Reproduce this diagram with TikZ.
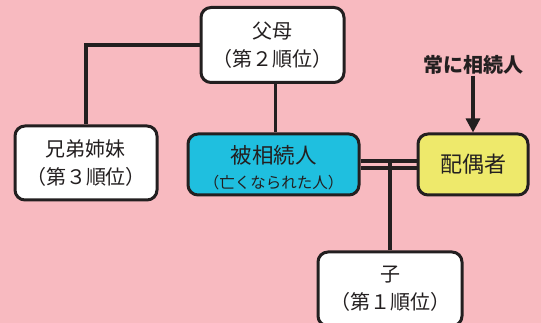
\documentclass[tikz,border=0pt]{standalone}
\usepackage{fontspec}
\setmainfont{Noto Sans CJK JP}
\usetikzlibrary{arrows.meta}
\definecolor{bgpink}{HTML}{F8BAC0}
\definecolor{ink}{HTML}{231F20}
\definecolor{cyanbox}{HTML}{1FBFDF}
\definecolor{yelbox}{HTML}{EEE96B}
\tikzset{
  box/.style={draw=ink, line width=3pt, rounded corners=10pt, fill=white, text=ink, align=center, inner sep=0pt},
  link/.style={draw=ink, line width=3.2pt},
  boxtext/.style={font=\fontsize{20}{28}\selectfont},
}
\begin{document}
\begin{tikzpicture}[x=1pt,y=-1pt]
\useasboundingbox (0,0) rectangle (541,323);
\clip (0,0) rectangle (541,323);
\fill[bgpink] (0,0) rectangle (541,323);
\node[box, boxtext, minimum width=143pt, minimum height=75pt] (fubo) at (272.5,45) {父母\\（第２順位）};
\node[box, boxtext, minimum width=142pt, minimum height=74pt] (kyodai) at (86,163) {兄弟姉妹\\（第３順位）};
\node[box, fill=cyanbox, minimum width=171pt, minimum height=61pt, text depth=0pt] (hi) at (273.5,164.5) {};
\node[text=ink, inner sep=0pt, font=\fontsize{21.5}{24}\selectfont] (hi1) at (273.5,155) {被相続人};
\node[text=ink, inner sep=0pt, font=\fontsize{15.5}{18}\selectfont] (hi2) at (273.5,182.5) {（亡くなられた人）};
\node[box, fill=yelbox, minimum width=110pt, minimum height=61pt, font=\fontsize{22}{24}\selectfont] (hai) at (473,164.5) {配偶者};
\node[box, boxtext, minimum width=144pt, minimum height=74pt] (ko) at (390,289) {子\\（第１順位）};
\node[text=ink, font=\fontsize{20}{24}\selectfont\bfseries, inner sep=1pt] (tsune) at (473,65) {常に相続人};
\draw[link] (fubo.west) -| (kyodai.north);
\draw[link] ([xshift=3pt]fubo.south) -- ([xshift=3pt]fubo.south |- hi.north);
\draw[link] ([yshift=-3.5pt]hi.east) -- ([yshift=-3.5pt]hai.west);
\draw[link] ([yshift=3.5pt]hi.east) coordinate (low) -- ([yshift=3.5pt]hai.west);
\draw[link] (ko.north) -- (ko.north |- low);
\draw[link, -{Triangle[length=14pt,width=14pt]}] (tsune.south) -- (hai.north);
\end{tikzpicture}
\end{document}
